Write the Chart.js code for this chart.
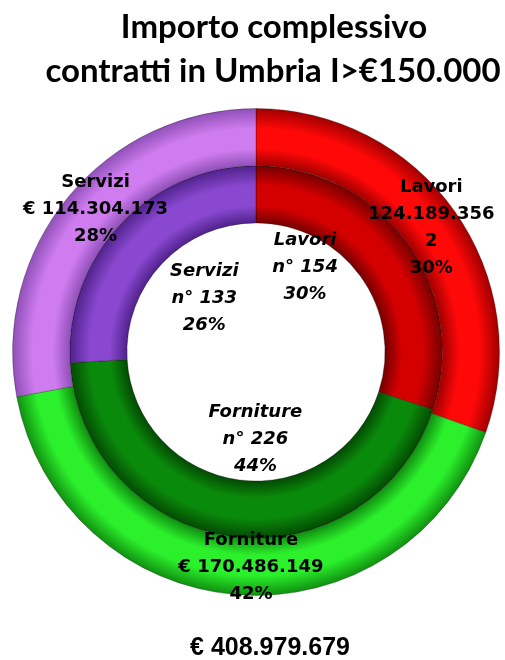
<!DOCTYPE html>
<html>
<head>
<meta charset="utf-8">
<script src="https://cdn.jsdelivr.net/npm/chart.js@4.4.0/dist/chart.umd.min.js"></script>
<style>
  html, body { margin: 0; padding: 0; background: #fff; }
  #wrap { width: 505px; height: 660px; }
</style>
</head>
<body>
<div id="wrap"><canvas id="torta"></canvas></div>
<script>
// dati
var categorie = ['Lavori', 'Forniture', 'Servizi'];
var importi = [124189356, 170486149, 114304173];
var importiTesto = [['124.189.356', '2'], ['€ 170.486.149'], ['€ 114.304.173']];
var numeroContratti = [154, 226, 133];
var titolo = ['Importo complessivo', 'contratti in Umbria I>€150.000'];
var totaleTesto = '€ 408.979.679';

// [colore pieno, colore bordo] per anello
var coloriEsterni = [['#ff0808', '#a00000'], ['#2cf02c', '#109010'], ['#cf7cf0', '#9050b8']];
var coloriInterni = [['#d40000', '#760000'], ['#0a8a0a', '#034a03'], ['#8a48d0', '#50228c']];

function percentuali(valori) {
  var tot = valori.reduce(function(a, b) { return a + b; }, 0);
  return valori.map(function(v) { return Math.round(v / tot * 100) + '%'; });
}
var pctImporti = percentuali(importi);
var pctNumero = percentuali(numeroContratti);

function gradienteAnello(colori) {
  return function(c) {
    var col = colori[c.dataIndex] || colori[0];
    var chart = c.chart;
    var ctrl = chart.getDatasetMeta(c.datasetIndex).controller;
    var area = chart.chartArea;
    if (!area || !ctrl.outerRadius) return col[0];
    var cx = (area.left + area.right) / 2, cy = (area.top + area.bottom) / 2;
    var g = chart.ctx.createRadialGradient(cx, cy, ctrl.innerRadius, cx, cy, ctrl.outerRadius);
    g.addColorStop(0, col[1]);
    g.addColorStop(0.3, col[0]);
    g.addColorStop(0.65, col[0]);
    g.addColorStop(1, col[1]);
    return g;
  };
}

var etichettePlugin = {
  id: 'etichette',
  afterDatasetsDraw: function(chart, args, opts) {
    var ctx = chart.ctx;
    ctx.save();
    ctx.fillStyle = '#000';
    ctx.textAlign = 'center';
    ctx.textBaseline = 'middle';
    chart.data.datasets.forEach(function(ds, di) {
      chart.getDatasetMeta(di).data.forEach(function(arc, i) {
        var p = arc.getProps(['x', 'y', 'startAngle', 'endAngle', 'innerRadius', 'outerRadius']);
        var ang = (p.startAngle + p.endAngle) / 2 + (opts.spostamento[di][i] || 0) * Math.PI / 180;
        var r = di === 0 ? (p.innerRadius + p.outerRadius) / 2 : p.innerRadius * opts.raggioInterno[i];
        var x = p.x + Math.cos(ang) * r;
        var y = p.y + Math.sin(ang) * r;
        var righe;
        if (di === 0) {
          righe = [categorie[i]].concat(importiTesto[i], [pctImporti[i]]);
          ctx.font = 'bold 18px "DejaVu Sans"';
        } else {
          righe = [categorie[i], 'n° ' + numeroContratti[i], pctNumero[i]];
          ctx.font = 'italic bold 18px "DejaVu Sans"';
        }
        var lh = 27;
        var y0 = y - (righe.length - 1) * lh / 2;
        righe.forEach(function(t, k) { ctx.fillText(t, x, y0 + k * lh); });
      });
    });
    ctx.restore();
  }
};

var testiPlugin = {
  id: 'testi',
  afterDraw: function(chart) {
    var ctx = chart.ctx;
    ctx.save();
    ctx.fillStyle = '#000';
    ctx.textAlign = 'center';
    ctx.textBaseline = 'middle';
    ctx.font = 'bold 33px Lato';
    ctx.fillText(titolo[0], 274, 27);
    ctx.fillText(titolo[1], 273, 71);
    ctx.font = 'bold 25px "Liberation Sans"';
    ctx.fillText(totaleTesto, 270, 648);
    ctx.restore();
  }
};

new Chart(document.getElementById('torta').getContext('2d'), {
  type: 'doughnut',
  data: {
    labels: categorie,
    datasets: [{
      label: 'Importo',
      data: importi,
      backgroundColor: gradienteAnello(coloriEsterni),
      borderColor: 'rgba(0,0,0,0.25)',
      borderWidth: 1
    }, {
      label: 'Numero contratti',
      data: numeroContratti,
      backgroundColor: gradienteAnello(coloriInterni),
      borderColor: 'rgba(0,0,0,0.3)',
      borderWidth: 1
    }]
  },
  options: {
    responsive: true,
    maintainAspectRatio: false,
    animation: false,
    events: [],
    cutout: '53%',
    layout: { padding: { left: 12, right: 5, top: 108, bottom: 64 } },
    plugins: {
      legend: { display: false },
      tooltip: { enabled: false },
      etichette: {
        spostamento: [[0, -3, 2], [-24, -7, 3]],
        raggioInterno: [0.76, 0.68, 0.58]
      }
    }
  },
  plugins: [etichettePlugin, testiPlugin]
});
</script>
</body>
</html>
